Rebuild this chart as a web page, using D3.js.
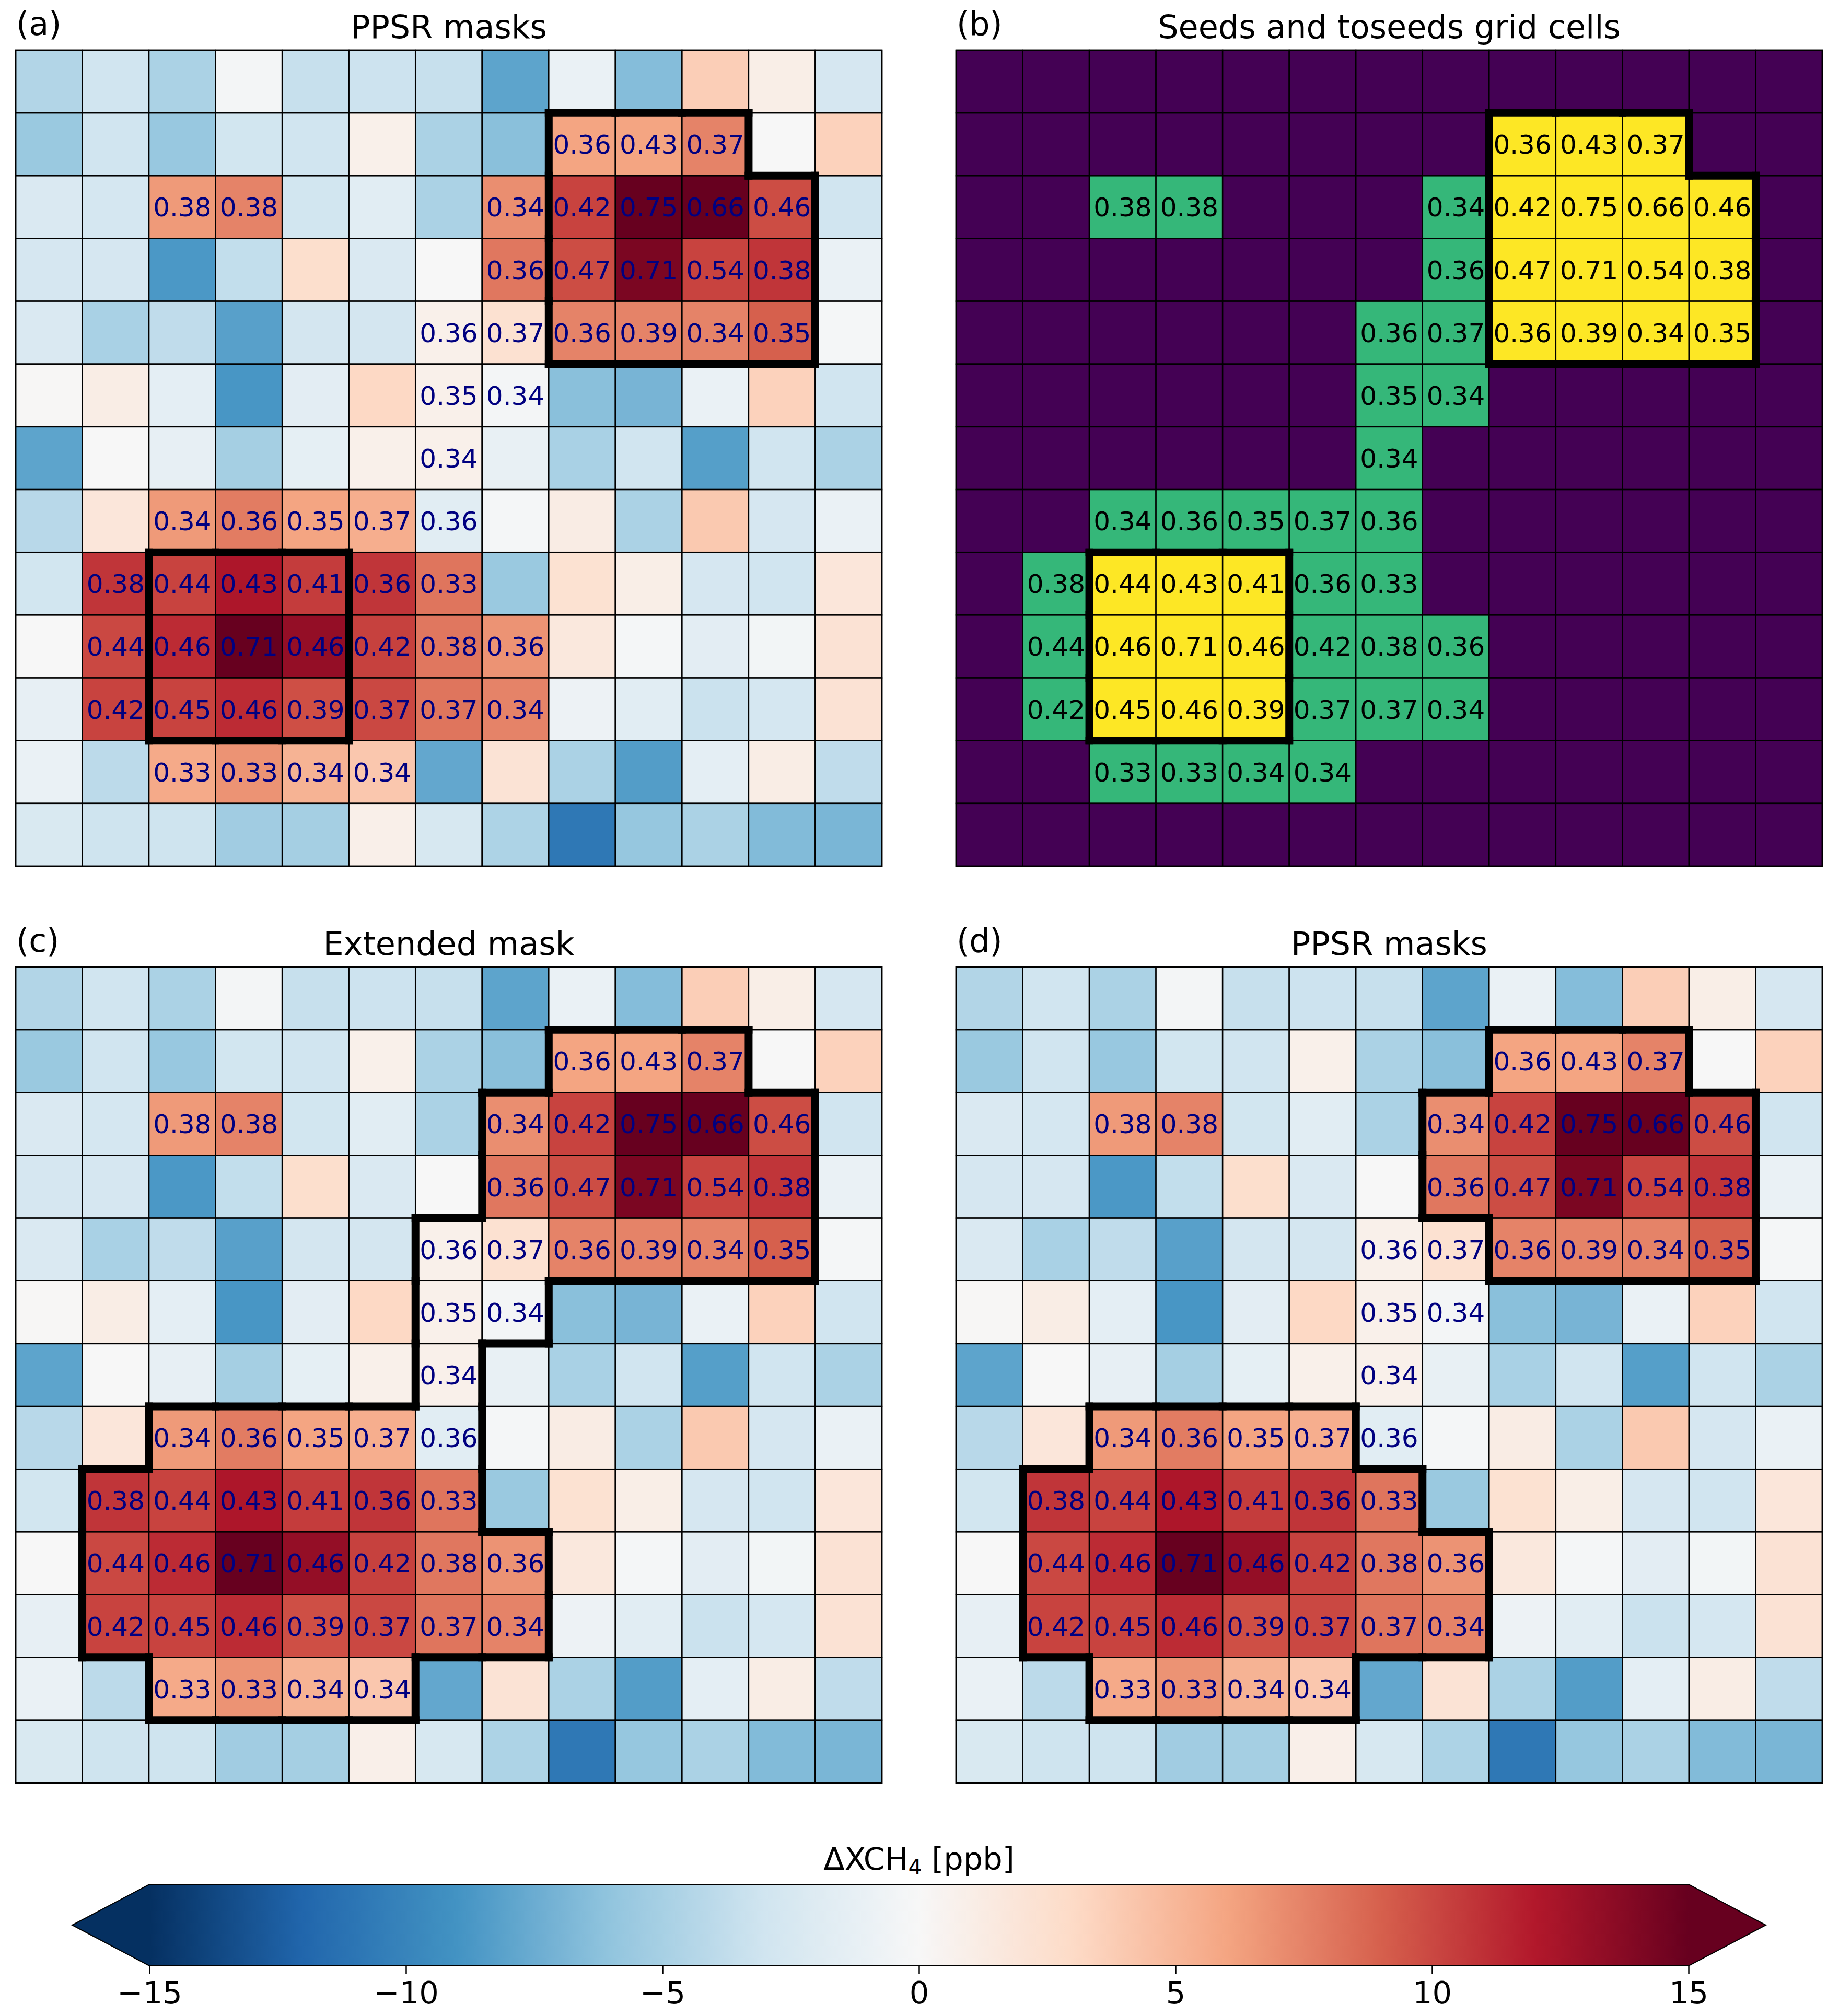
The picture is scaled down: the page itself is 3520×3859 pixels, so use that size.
<!DOCTYPE html>
<html>
<head>
<meta charset="utf-8">
<script src="https://cdn.jsdelivr.net/npm/d3@7"></script>
<style>
  body { margin: 0; background: #fff; }
  text { font-family: "DejaVu Sans", sans-serif; }
</style>
</head>
<body>
<script>
const W = 3520, H = 3859;
const nRows = 13, nCols = 13;

// XCH4 anomaly per grid cell [ppb], row 0 = top
const values = [
  [-4.5, -3.0, -4.8, -0.3, -3.5, -3.2, -3.5, -8.0, -1.0, -6.5,  3.7,  1.0, -2.6],
  [-5.6, -3.0, -5.7, -2.9, -3.0,  0.8, -4.8, -6.3,  6.0,  6.0,  7.5,  0.0,  3.5],
  [-2.3, -2.7,  6.5,  7.5, -2.9, -1.7, -4.8,  7.0, 10.2, 15.0, 15.0,  9.8, -3.0],
  [-2.6, -2.6, -8.7, -3.7,  2.6, -2.3,  0.0,  8.0,  9.8, 14.2, 10.2, 10.8, -1.0],
  [-2.3, -4.9, -3.8, -8.2, -2.8, -2.8,  0.8,  2.4,  7.5,  7.5,  7.5,  9.0, -0.2],
  [ 0.1,  1.1, -1.5, -8.8, -1.6,  3.1,  0.8, -0.3, -6.3, -7.0, -1.0,  3.5, -3.0],
  [-8.0,  0.0, -1.3, -5.1, -1.4,  0.8,  0.8, -1.2, -4.9, -3.0, -8.3, -3.0, -4.8],
  [-4.2,  1.8,  6.5,  7.8,  6.0,  5.5, -1.7, -0.2,  1.2, -4.8,  4.0, -2.6, -1.0],
  [-2.9, 10.8, 10.2, 12.2, 10.5, 10.8,  8.1, -5.6,  2.3,  1.0, -2.6, -3.0,  1.8],
  [ 0.0, 10.0, 11.2, 15.0, 13.2, 10.3,  8.0,  6.8,  1.6, -0.2, -1.6, -0.4,  2.2],
  [-1.3, 10.2, 10.2, 11.2,  9.7, 10.0,  8.1,  7.5, -0.8, -1.7, -3.3, -2.7,  2.2],
  [-1.0, -4.0,  5.7,  6.8,  5.2,  4.1, -7.8,  2.1, -4.8, -8.4, -1.5,  1.1, -3.8],
  [-2.4, -3.1, -3.1, -5.3, -5.1,  0.9, -2.5, -4.7,-10.8, -5.8, -4.8, -6.6, -6.9]
];

// [row, col, label]
const cellLabels = [
  [1, 8, "0.36"], [1, 9, "0.43"], [1, 10, "0.37"],
  [2, 2, "0.38"], [2, 3, "0.38"], [2, 7, "0.34"], [2, 8, "0.42"], [2, 9, "0.75"], [2, 10, "0.66"], [2, 11, "0.46"],
  [3, 7, "0.36"], [3, 8, "0.47"], [3, 9, "0.71"], [3, 10, "0.54"], [3, 11, "0.38"],
  [4, 6, "0.36"], [4, 7, "0.37"], [4, 8, "0.36"], [4, 9, "0.39"], [4, 10, "0.34"], [4, 11, "0.35"],
  [5, 6, "0.35"], [5, 7, "0.34"],
  [6, 6, "0.34"],
  [7, 2, "0.34"], [7, 3, "0.36"], [7, 4, "0.35"], [7, 5, "0.37"], [7, 6, "0.36"],
  [8, 1, "0.38"], [8, 2, "0.44"], [8, 3, "0.43"], [8, 4, "0.41"], [8, 5, "0.36"], [8, 6, "0.33"],
  [9, 1, "0.44"], [9, 2, "0.46"], [9, 3, "0.71"], [9, 4, "0.46"], [9, 5, "0.42"], [9, 6, "0.38"], [9, 7, "0.36"],
  [10, 1, "0.42"], [10, 2, "0.45"], [10, 3, "0.46"], [10, 4, "0.39"], [10, 5, "0.37"], [10, 6, "0.37"], [10, 7, "0.34"],
  [11, 2, "0.33"], [11, 3, "0.33"], [11, 4, "0.34"], [11, 5, "0.34"]
];

const seedMask = [
  "0000000000000",
  "0000000011100",
  "0000000011110",
  "0000000011110",
  "0000000011110",
  "0000000000000",
  "0000000000000",
  "0000000000000",
  "0011100000000",
  "0011100000000",
  "0011100000000",
  "0000000000000",
  "0000000000000"
];

const toseedMask = [
  "0000000000000",
  "0000000000000",
  "0011000100000",
  "0000000100000",
  "0000001100000",
  "0000001100000",
  "0000001000000",
  "0011111000000",
  "0100011000000",
  "0100011100000",
  "0100011100000",
  "0011110000000",
  "0000000000000"
];

const extendedMask = [
  "0000000000000",
  "0000000011100",
  "0000000111110",
  "0000000111110",
  "0000001111110",
  "0000001100000",
  "0000001000000",
  "0011111000000",
  "0111111000000",
  "0111111100000",
  "0111111100000",
  "0011110000000",
  "0000000000000"
];

const finalMask = [
  "0000000000000",
  "0000000011100",
  "0000000111110",
  "0000000111110",
  "0000000011110",
  "0000000000000",
  "0000000000000",
  "0011110000000",
  "0111111000000",
  "0111111100000",
  "0111111100000",
  "0011110000000",
  "0000000000000"
];

const panelLetters = ["(a)", "(b)", "(c)", "(d)"];
const panelTitles = ["PPSR masks", "Seeds and toseeds grid cells", "Extended mask", "PPSR masks"];
const cbarTicks = [-15, -10, -5, 0, 5, 10, 15];

const rdbu = ["#053061", "#2166ac", "#4393c3", "#92c5de", "#d1e5f0", "#f7f7f7",
              "#fddbc7", "#f4a582", "#d6604d", "#b2182b", "#67001f"];
const color = d3.scaleLinear()
  .domain(d3.range(rdbu.length).map(i => -15 + 3 * i))
  .range(rdbu)
  .interpolate(d3.interpolateRgb)
  .clamp(true);

const viridis = {none: "#440154", toseed: "#35b779", seed: "#fde725"};

const panelW = 1658, panelH = 1562;
const panels = [
  {x: 30,   y: 96,   outline: seedMask,     kind: "delta"},
  {x: 1830, y: 96,   outline: seedMask,     kind: "seeds"},
  {x: 30,   y: 1851, outline: extendedMask, kind: "delta"},
  {x: 1830, y: 1851, outline: finalMask,    kind: "delta"}
];

const svg = d3.select("body").append("svg")
  .attr("width", W)
  .attr("height", H);

svg.append("rect").attr("width", W).attr("height", H).attr("fill", "white");

const x = d3.scaleBand().domain(d3.range(nCols)).range([0, panelW]);
const y = d3.scaleBand().domain(d3.range(nRows)).range([0, panelH]);

const cells = [];
values.forEach((row, r) => row.forEach((v, c) => cells.push({r, c, v})));

const isIn = (mask, r, c) => r >= 0 && r < nRows && c >= 0 && c < nCols && mask[r][c] === "1";

function boundary(mask) {
  const segs = [];
  for (let r = 0; r < nRows; r++) {
    for (let c = 0; c < nCols; c++) {
      if (!isIn(mask, r, c)) continue;
      const x0 = x(c), x1 = x(c) + x.bandwidth(), y0 = y(r), y1 = y(r) + y.bandwidth();
      if (!isIn(mask, r - 1, c)) segs.push([x0, y0, x1, y0]);
      if (!isIn(mask, r + 1, c)) segs.push([x0, y1, x1, y1]);
      if (!isIn(mask, r, c - 1)) segs.push([x0, y0, x0, y1]);
      if (!isIn(mask, r, c + 1)) segs.push([x1, y0, x1, y1]);
    }
  }
  return segs;
}

panels.forEach((p, i) => {
  const g = svg.append("g").attr("transform", `translate(${p.x},${p.y})`);

  const fill = d => {
    if (p.kind === "delta") return color(d.v);
    if (isIn(seedMask, d.r, d.c)) return viridis.seed;
    if (isIn(toseedMask, d.r, d.c)) return viridis.toseed;
    return viridis.none;
  };

  g.append("g")
    .selectAll("rect")
    .data(cells)
    .join("rect")
      .attr("x", d => x(d.c))
      .attr("y", d => y(d.r))
      .attr("width", x.bandwidth())
      .attr("height", y.bandwidth())
      .attr("fill", fill)
      .attr("stroke", "black")
      .attr("stroke-width", 2.5);

  g.append("g")
    .selectAll("text")
    .data(cellLabels)
    .join("text")
      .attr("x", d => x(d[1]) + x.bandwidth() / 2)
      .attr("y", d => y(d[0]) + y.bandwidth() / 2)
      .attr("dy", "0.36em")
      .attr("text-anchor", "middle")
      .attr("font-size", 50)
      .attr("fill", p.kind === "delta" ? "#000080" : "black")
      .text(d => d[2]);

  g.append("g")
    .selectAll("line")
    .data(boundary(p.outline))
    .join("line")
      .attr("x1", d => d[0]).attr("y1", d => d[1])
      .attr("x2", d => d[2]).attr("y2", d => d[3])
      .attr("stroke", "black")
      .attr("stroke-width", 15)
      .attr("stroke-linecap", "square");

  g.append("rect")
    .attr("width", panelW)
    .attr("height", panelH)
    .attr("fill", "none")
    .attr("stroke", "black")
    .attr("stroke-width", 2.5);

  g.append("text")
    .attr("x", 1)
    .attr("y", -29)
    .attr("font-size", 62)
    .text(panelLetters[i]);

  g.append("text")
    .attr("x", panelW / 2)
    .attr("y", -23)
    .attr("text-anchor", "middle")
    .attr("font-size", 62)
    .text(panelTitles[i]);
});

// colorbar
const cb = {x0: 286, x1: 3232, y0: 3607, y1: 3763, ext: 148};
const cbx = d3.scaleLinear().domain([-15, 15]).range([cb.x0, cb.x1]);

const grad = svg.append("defs").append("linearGradient")
  .attr("id", "cbgrad")
  .attr("gradientUnits", "userSpaceOnUse")
  .attr("x1", cb.x0).attr("x2", cb.x1).attr("y1", 0).attr("y2", 0);
grad.selectAll("stop")
  .data(d3.range(0, 61).map(i => -15 + i * 0.5))
  .join("stop")
    .attr("offset", d => (d + 15) / 30)
    .attr("stop-color", d => color(d));

const ym = (cb.y0 + cb.y1) / 2;
svg.append("polygon")
  .attr("points", [[cb.x0, cb.y0], [cb.x0 - cb.ext, ym], [cb.x0, cb.y1]].join(" "))
  .attr("fill", color(-15));
svg.append("polygon")
  .attr("points", [[cb.x1, cb.y0], [cb.x1 + cb.ext, ym], [cb.x1, cb.y1]].join(" "))
  .attr("fill", color(15));
svg.append("rect")
  .attr("x", cb.x0).attr("y", cb.y0)
  .attr("width", cb.x1 - cb.x0).attr("height", cb.y1 - cb.y0)
  .attr("fill", "url(#cbgrad)");
svg.append("polygon")
  .attr("points", [[cb.x0, cb.y0], [cb.x1, cb.y0], [cb.x1 + cb.ext, ym], [cb.x1, cb.y1],
                   [cb.x0, cb.y1], [cb.x0 - cb.ext, ym]].join(" "))
  .attr("fill", "none")
  .attr("stroke", "black")
  .attr("stroke-width", 2);

const cbAxis = svg.append("g")
  .attr("transform", `translate(0,${cb.y1})`)
  .call(d3.axisBottom(cbx).tickValues(cbarTicks).tickSize(15).tickPadding(15))
  .call(g => g.select(".domain").remove());
cbAxis.selectAll(".tick line").attr("stroke", "black").attr("stroke-width", 2.5);
cbAxis.selectAll(".tick text")
  .attr("font-size", 59)
  .attr("font-family", "DejaVu Sans")
  .attr("fill", "black");

const cbLabel = svg.append("text")
  .attr("x", (cb.x0 + cb.x1) / 2)
  .attr("y", 3579)
  .attr("text-anchor", "middle")
  .attr("font-size", 59);
cbLabel.append("tspan").text("ΔXCH");
cbLabel.append("tspan").attr("font-size", 41).attr("dy", 9).text("4");
cbLabel.append("tspan").attr("dy", -9).text(" [ppb]");
</script>
</body>
</html>
